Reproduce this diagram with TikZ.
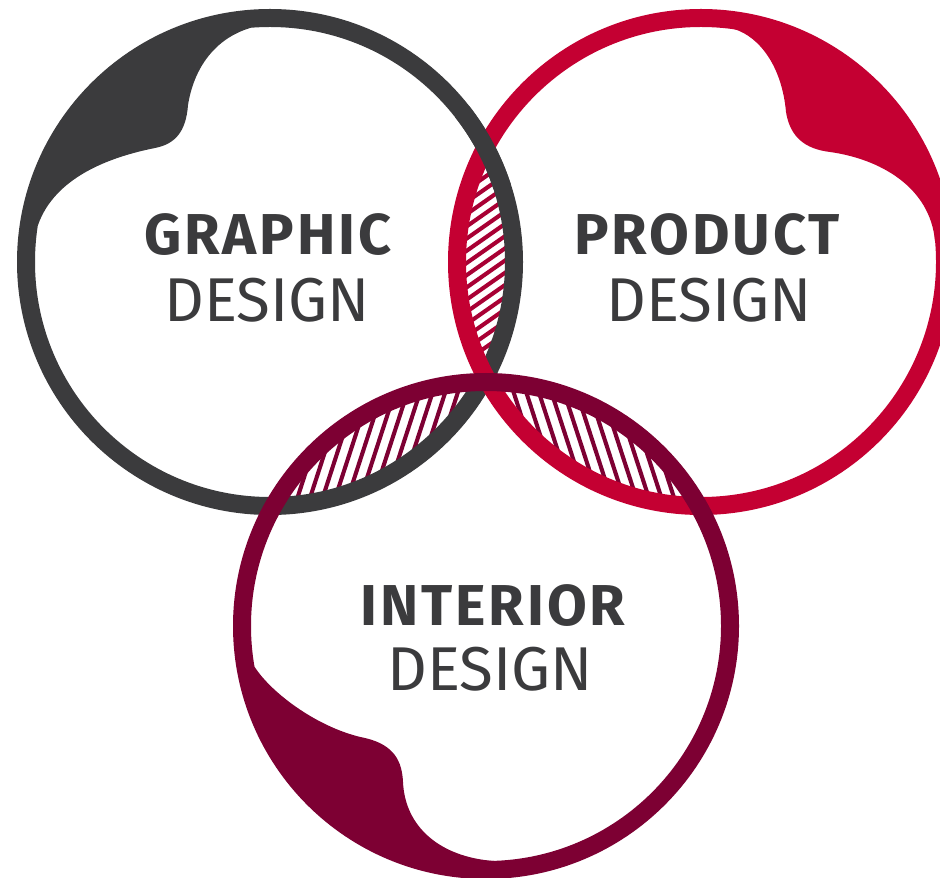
\documentclass[tikz,border=0pt]{standalone}
\usepackage{fontspec}
\setmainfont{Fira Sans}
\newfontfamily\titlefont[LetterSpace=5]{Fira Sans}
\usetikzlibrary{positioning,calc}
\definecolor{graphicgray}{RGB}{59,59,61}
\definecolor{productred}{RGB}{196,0,50}
\definecolor{interiorwine}{RGB}{125,0,51}
\definecolor{hatchred}{RGB}{168,0,52}

\begin{document}
\begin{tikzpicture}[x=0.025cm,y=0.025cm,
  ring/.style={line width=12.8pt},
  hatch/.style={line width=2.9pt},
  title/.style={font=\titlefont\fontsize{41}{41}\selectfont\bfseries,text=graphicgray,anchor=base,inner sep=0pt},
  sub/.style={font=\fontsize{44}{44}\selectfont,text=graphicgray,anchor=base,inner sep=0pt}]
 \useasboundingbox (0,0) rectangle (940,877);
 \coordinate (G) at (270,615);
 \coordinate (P) at (701,615);
 \coordinate (I) at (486,251);
 % blobs inside the rings
 \fill[graphicgray] (250,849) .. controls (220,840) and (195,815) .. (188,772)
   .. controls (186,745) and (175,733) .. (155,729)
   .. controls (110,720) and (55,700) .. (38,652)
   -- ($(G)+(171:250)$) arc[start angle=171,end angle=95,radius=250] -- cycle;
 \fill[productred] (734,848) .. controls (760,840) and (782,810) .. (786,765)
   .. controls (790,740) and (805,728) .. (830,725)
   .. controls (880,718) and (930,690) .. (935,636)
   -- ($(P)+(5:250)$) arc[start angle=5,end angle=82,radius=250] -- cycle;
 \fill[interiorwine] (254.6,210.2) .. controls (272,183) and (320,148) .. (365,139)
   .. controls (395,132) and (402,115) .. (403,95)
   .. controls (405,50) and (440,20) .. (494,16)
   -- ($(I)+(272:250)$) arc[start angle=272,end angle=190,radius=250] -- cycle;
 % hatched overlaps
 \begin{scope}
  \clip (G) circle[radius=244];
  \clip (P) circle[radius=244];
  \begin{scope}[shift={(485.5,615)},rotate=35]
   \foreach \k in {-14,...,14} \draw[hatch,hatchred] (-200,\k*10) -- (200,\k*10);
  \end{scope}
 \end{scope}
 \begin{scope}
  \clip (G) circle[radius=244];
  \clip (I) circle[radius=244];
  \begin{scope}[shift={(378,433)},rotate=72]
   \foreach \k in {-14,...,14} \draw[hatch,interiorwine] (-250,\k*12) -- (250,\k*12);
  \end{scope}
 \end{scope}
 \begin{scope}
  \clip (P) circle[radius=244];
  \clip (I) circle[radius=244];
  \begin{scope}[shift={(593.5,433)},rotate=108]
   \foreach \k in {-14,...,14} \draw[hatch,interiorwine] (-250,\k*12) -- (250,\k*12);
  \end{scope}
 \end{scope}
 % rings
 \draw[ring,graphicgray] (G) circle[radius=244];
 \draw[ring,productred] (P) circle[radius=244];
 \draw[ring,interiorwine] (I) circle[radius=244];
 \draw[ring,graphicgray] ($(G)+(18:244)$) arc[start angle=18,end angle=38,radius=244];
 % labels
 \node[title] (graphic) at (268,622) {GRAPHIC};
 \node[sub] (graphicsub) at (267,555) {DESIGN};
 \node[title] (product) at (707,622) {PRODUCT};
 \node[sub] (productsub) at (709,555) {DESIGN};
 \node[title] (interior) at (493,252) {INTERIOR};
 \node[sub] (interiorsub) at (490,187) {DESIGN};
\end{tikzpicture}
\end{document}
